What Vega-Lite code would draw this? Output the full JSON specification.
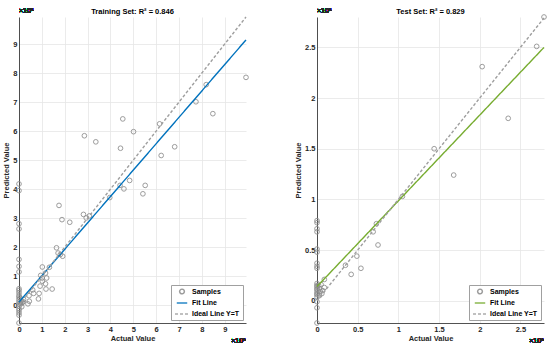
{
  "$schema": "https://vega.github.io/schema/vega-lite/v6.json",
  "padding": {"left": 2, "top": 7, "right": 0, "bottom": 0},
  "background": "white",
  "spacing": 43,
  "datasets": {
    "train": [
      {"series": "Samples", "actual": 9930000, "predicted": 7850000},
      {"series": "Samples", "actual": 8190000, "predicted": 7600000},
      {"series": "Samples", "actual": 7740000, "predicted": 7010000},
      {"series": "Samples", "actual": 8480000, "predicted": 6600000},
      {"series": "Samples", "actual": 4540000, "predicted": 6420000},
      {"series": "Samples", "actual": 6150000, "predicted": 6250000},
      {"series": "Samples", "actual": 2860000, "predicted": 5840000},
      {"series": "Samples", "actual": 5010000, "predicted": 5980000},
      {"series": "Samples", "actual": 3360000, "predicted": 5630000},
      {"series": "Samples", "actual": 4440000, "predicted": 5410000},
      {"series": "Samples", "actual": 6810000, "predicted": 5460000},
      {"series": "Samples", "actual": 6220000, "predicted": 5160000},
      {"series": "Samples", "actual": 4840000, "predicted": 4300000},
      {"series": "Samples", "actual": 5520000, "predicted": 4130000},
      {"series": "Samples", "actual": 4420000, "predicted": 4130000},
      {"series": "Samples", "actual": 4590000, "predicted": 4010000},
      {"series": "Samples", "actual": 5420000, "predicted": 3840000},
      {"series": "Samples", "actual": 3970000, "predicted": 3710000},
      {"series": "Samples", "actual": 0, "predicted": 4180000},
      {"series": "Samples", "actual": 0, "predicted": 3950000},
      {"series": "Samples", "actual": 0, "predicted": 2810000},
      {"series": "Samples", "actual": 0, "predicted": 2630000},
      {"series": "Samples", "actual": 1750000, "predicted": 3440000},
      {"series": "Samples", "actual": 2820000, "predicted": 3130000},
      {"series": "Samples", "actual": 2940000, "predicted": 3010000},
      {"series": "Samples", "actual": 3080000, "predicted": 3080000},
      {"series": "Samples", "actual": 1880000, "predicted": 2950000},
      {"series": "Samples", "actual": 2220000, "predicted": 2860000},
      {"series": "Samples", "actual": 1640000, "predicted": 1980000},
      {"series": "Samples", "actual": 1710000, "predicted": 1800000},
      {"series": "Samples", "actual": 1810000, "predicted": 1750000},
      {"series": "Samples", "actual": 1910000, "predicted": 1690000},
      {"series": "Samples", "actual": 0, "predicted": 1580000},
      {"series": "Samples", "actual": 0, "predicted": 1340000},
      {"series": "Samples", "actual": 0, "predicted": 1150000},
      {"series": "Samples", "actual": 1020000, "predicted": 1320000},
      {"series": "Samples", "actual": 1330000, "predicted": 1310000},
      {"series": "Samples", "actual": 950000, "predicted": 1030000},
      {"series": "Samples", "actual": 1160000, "predicted": 1110000},
      {"series": "Samples", "actual": 1010000, "predicted": 940000},
      {"series": "Samples", "actual": 1210000, "predicted": 940000},
      {"series": "Samples", "actual": 1020000, "predicted": 830000},
      {"series": "Samples", "actual": 920000, "predicted": 660000},
      {"series": "Samples", "actual": 1160000, "predicted": 740000},
      {"series": "Samples", "actual": 1180000, "predicted": 560000},
      {"series": "Samples", "actual": 1450000, "predicted": 560000},
      {"series": "Samples", "actual": 600000, "predicted": 530000},
      {"series": "Samples", "actual": 640000, "predicted": 410000},
      {"series": "Samples", "actual": 880000, "predicted": 410000},
      {"series": "Samples", "actual": 440000, "predicted": 330000},
      {"series": "Samples", "actual": 850000, "predicted": 220000},
      {"series": "Samples", "actual": 450000, "predicted": 140000},
      {"series": "Samples", "actual": 390000, "predicted": 50000},
      {"series": "Samples", "actual": 0, "predicted": 570000},
      {"series": "Samples", "actual": 0, "predicted": 510000},
      {"series": "Samples", "actual": 0, "predicted": 430000},
      {"series": "Samples", "actual": 0, "predicted": 340000},
      {"series": "Samples", "actual": 0, "predicted": 280000},
      {"series": "Samples", "actual": 0, "predicted": 200000},
      {"series": "Samples", "actual": 0, "predicted": 120000},
      {"series": "Samples", "actual": 0, "predicted": 50000},
      {"series": "Samples", "actual": 0, "predicted": -30000},
      {"series": "Samples", "actual": 0, "predicted": -120000},
      {"series": "Samples", "actual": 0, "predicted": -180000},
      {"series": "Samples", "actual": 0, "predicted": -260000},
      {"series": "Samples", "actual": 0, "predicted": -340000},
      {"series": "Samples", "actual": 0, "predicted": -610000},
      {"series": "Samples", "actual": 100000, "predicted": 150000},
      {"series": "Samples", "actual": 150000, "predicted": 100000},
      {"series": "Samples", "actual": 50000, "predicted": 250000},
      {"series": "Samples", "actual": 200000, "predicted": 200000},
      {"series": "Samples", "actual": 80000, "predicted": 50000},
      {"series": "Samples", "actual": 120000, "predicted": -50000},
      {"series": "Samples", "actual": 60000, "predicted": 80000},
      {"series": "Samples", "actual": 180000, "predicted": 120000},
      {"series": "Fit Line", "actual": 0, "predicted": 110000},
      {"series": "Fit Line", "actual": 9930000, "predicted": 9140000},
      {"series": "Ideal Line Y=T", "actual": 0, "predicted": 0},
      {"series": "Ideal Line Y=T", "actual": 9930000, "predicted": 9930000}
    ],
    "test": [
      {"series": "Samples", "actual": 2790000, "predicted": 2800000},
      {"series": "Samples", "actual": 2700000, "predicted": 2510000},
      {"series": "Samples", "actual": 2030000, "predicted": 2310000},
      {"series": "Samples", "actual": 2350000, "predicted": 1800000},
      {"series": "Samples", "actual": 1440000, "predicted": 1500000},
      {"series": "Samples", "actual": 1680000, "predicted": 1240000},
      {"series": "Samples", "actual": 1050000, "predicted": 1030000},
      {"series": "Samples", "actual": 730000, "predicted": 760000},
      {"series": "Samples", "actual": 690000, "predicted": 680000},
      {"series": "Samples", "actual": 750000, "predicted": 550000},
      {"series": "Samples", "actual": 490000, "predicted": 440000},
      {"series": "Samples", "actual": 350000, "predicted": 350000},
      {"series": "Samples", "actual": 540000, "predicted": 320000},
      {"series": "Samples", "actual": 420000, "predicted": 260000},
      {"series": "Samples", "actual": 90000, "predicted": 210000},
      {"series": "Samples", "actual": 90000, "predicted": 130000},
      {"series": "Samples", "actual": 70000, "predicted": 100000},
      {"series": "Samples", "actual": 0, "predicted": 790000},
      {"series": "Samples", "actual": 0, "predicted": 770000},
      {"series": "Samples", "actual": 0, "predicted": 710000},
      {"series": "Samples", "actual": 0, "predicted": 680000},
      {"series": "Samples", "actual": 0, "predicted": 510000},
      {"series": "Samples", "actual": 0, "predicted": 480000},
      {"series": "Samples", "actual": 0, "predicted": 370000},
      {"series": "Samples", "actual": 0, "predicted": 340000},
      {"series": "Samples", "actual": 0, "predicted": 320000},
      {"series": "Samples", "actual": 0, "predicted": 170000},
      {"series": "Samples", "actual": 0, "predicted": 150000},
      {"series": "Samples", "actual": 0, "predicted": 140000},
      {"series": "Samples", "actual": 0, "predicted": 120000},
      {"series": "Samples", "actual": 0, "predicted": 110000},
      {"series": "Samples", "actual": 0, "predicted": 90000},
      {"series": "Samples", "actual": 0, "predicted": 70000},
      {"series": "Samples", "actual": 0, "predicted": 60000},
      {"series": "Samples", "actual": 0, "predicted": 40000},
      {"series": "Samples", "actual": 0, "predicted": -10000},
      {"series": "Samples", "actual": 0, "predicted": -70000},
      {"series": "Samples", "actual": 0, "predicted": -220000},
      {"series": "Samples", "actual": 20000, "predicted": 150000},
      {"series": "Samples", "actual": 30000, "predicted": 120000},
      {"series": "Samples", "actual": 40000, "predicted": 90000},
      {"series": "Samples", "actual": 50000, "predicted": 160000},
      {"series": "Samples", "actual": 60000, "predicted": 70000},
      {"series": "Samples", "actual": 30000, "predicted": 50000},
      {"series": "Fit Line", "actual": 0, "predicted": 140000},
      {"series": "Fit Line", "actual": 2790000, "predicted": 2500000},
      {"series": "Ideal Line Y=T", "actual": 0, "predicted": 0},
      {"series": "Ideal Line Y=T", "actual": 2790000, "predicted": 2790000}
    ]
  },
  "hconcat": [
    {
      "width": 227,
      "height": 306,
      "title": {"text": "Training Set: R² = 0.846"},
      "data": {"name": "train"},
      "layer": [
        {
          "transform": [{"filter": "datum.series === 'Samples'"}],
          "mark": {"type": "point", "filled": false, "strokeWidth": 1, "opacity": 0.85},
          "encoding": {
            "x": {"field": "actual", "type": "quantitative", "title": "Actual Value",
                  "scale": {"domain": [0, 9930000], "nice": false, "zero": false},
                  "axis": {"values": [0,1000000,2000000,3000000,4000000,5000000,6000000,7000000,8000000,9000000], "tickCount": 10, "labelExpr": "format(datum.value/1000000,'~g')", "labelOverlap": false, "labelFlush": false}},
            "y": {"field": "predicted", "type": "quantitative", "title": "Predicted Value",
                  "scale": {"domain": [-610000, 9930000], "nice": false, "zero": false},
                  "axis": {"values": [0,1000000,2000000,3000000,4000000,5000000,6000000,7000000,8000000,9000000], "tickCount": 10, "labelExpr": "format(datum.value/1000000,'~g')", "labelOverlap": false, "labelFlush": false}},
            "color": {"field": "series", "type": "nominal", "legend": {"title": null},
                      "scale": {"domain": ["Samples", "Fit Line", "Ideal Line Y=T"], "range": ["#8c8c8c", "#0072BD", "#9e9e9e"]}},
            "shape": {"field": "series", "type": "nominal", "legend": {"title": null},
                      "scale": {"domain": ["Samples", "Fit Line", "Ideal Line Y=T"], "range": ["circle", "stroke", "stroke"]}},
            "size": {"field": "series", "type": "nominal", "legend": {"title": null},
                     "scale": {"domain": ["Samples", "Fit Line", "Ideal Line Y=T"], "range": [22, 196, 196]}}
          }
        },
        {
          "transform": [{"filter": "datum.series !== 'Samples'"}],
          "mark": {"type": "line", "strokeWidth": 1.4},
          "encoding": {
            "x": {"field": "actual", "type": "quantitative", "axis": {"values": [0,1000000,2000000,3000000,4000000,5000000,6000000,7000000,8000000,9000000], "tickCount": 10, "labelExpr": "format(datum.value/1000000,'~g')", "labelOverlap": false, "labelFlush": false}},
            "y": {"field": "predicted", "type": "quantitative", "axis": {"values": [0,1000000,2000000,3000000,4000000,5000000,6000000,7000000,8000000,9000000], "tickCount": 10, "labelExpr": "format(datum.value/1000000,'~g')", "labelOverlap": false, "labelFlush": false}},
            "color": {"field": "series", "type": "nominal", "legend": {"title": null}},
            "strokeDash": {"field": "series", "type": "nominal", "legend": {"title": null},
                           "scale": {"domain": ["Samples", "Fit Line", "Ideal Line Y=T"], "range": [[1, 0], [1, 0], [3, 2]]}}
          }
        },
        {
          "mark": {"type": "text", "align": "left", "baseline": "alphabetic", "dy": -4, "fontSize": 7, "color": "#262626", "font": "Liberation Sans"},
          "encoding": {"x": {"datum": 0, "type": "quantitative"}, "y": {"datum": 9930000, "type": "quantitative"}, "text": {"value": "×10⁶"}}
        },
        {
          "mark": {"type": "text", "align": "right", "baseline": "alphabetic", "dy": 20, "fontSize": 7, "color": "#262626", "font": "Liberation Sans"},
          "encoding": {"x": {"datum": 9930000, "type": "quantitative"}, "y": {"datum": -610000, "type": "quantitative"}, "text": {"value": "×10⁶"}}
        }
      ]
    },
    {
      "width": 227,
      "height": 306,
      "title": {"text": "Test Set: R² = 0.829"},
      "data": {"name": "test"},
      "layer": [
        {
          "transform": [{"filter": "datum.series === 'Samples'"}],
          "mark": {"type": "point", "filled": false, "strokeWidth": 1, "opacity": 0.85},
          "encoding": {
            "x": {"field": "actual", "type": "quantitative", "title": "Actual Value",
                  "scale": {"domain": [0, 2790000], "nice": false, "zero": false},
                  "axis": {"values": [0,500000,1000000,1500000,2000000,2500000], "tickCount": 6, "labelExpr": "format(datum.value/1000000,'~g')", "labelOverlap": false, "labelFlush": false}},
            "y": {"field": "predicted", "type": "quantitative", "title": "Predicted Value",
                  "scale": {"domain": [-220000, 2800000], "nice": false, "zero": false},
                  "axis": {"values": [0,500000,1000000,1500000,2000000,2500000], "tickCount": 6, "labelExpr": "format(datum.value/1000000,'~g')", "labelOverlap": false, "labelFlush": false}},
            "color": {"field": "series", "type": "nominal", "legend": {"title": null},
                      "scale": {"domain": ["Samples", "Fit Line", "Ideal Line Y=T"], "range": ["#8c8c8c", "#77AC30", "#9e9e9e"]}},
            "shape": {"field": "series", "type": "nominal", "legend": {"title": null},
                      "scale": {"domain": ["Samples", "Fit Line", "Ideal Line Y=T"], "range": ["circle", "stroke", "stroke"]}},
            "size": {"field": "series", "type": "nominal", "legend": {"title": null},
                     "scale": {"domain": ["Samples", "Fit Line", "Ideal Line Y=T"], "range": [22, 196, 196]}}
          }
        },
        {
          "transform": [{"filter": "datum.series !== 'Samples'"}],
          "mark": {"type": "line", "strokeWidth": 1.4},
          "encoding": {
            "x": {"field": "actual", "type": "quantitative"},
            "y": {"field": "predicted", "type": "quantitative"},
            "color": {"field": "series", "type": "nominal", "legend": {"title": null}},
            "strokeDash": {"field": "series", "type": "nominal", "legend": {"title": null},
                           "scale": {"domain": ["Samples", "Fit Line", "Ideal Line Y=T"], "range": [[1, 0], [1, 0], [3, 2]]}}
          }
        },
        {
          "mark": {"type": "text", "align": "left", "baseline": "alphabetic", "dy": -4, "fontSize": 7, "color": "#262626", "font": "Liberation Sans"},
          "encoding": {"x": {"datum": 0, "type": "quantitative"}, "y": {"datum": 2800000, "type": "quantitative"}, "text": {"value": "×10⁶"}}
        },
        {
          "mark": {"type": "text", "align": "right", "baseline": "alphabetic", "dy": 20, "fontSize": 7, "color": "#262626", "font": "Liberation Sans"},
          "encoding": {"x": {"datum": 2790000, "type": "quantitative"}, "y": {"datum": -220000, "type": "quantitative"}, "text": {"value": "×10⁶"}}
        }
      ]
    }
  ],
  "resolve": {"scale": {"x": "independent", "y": "independent", "color": "independent", "shape": "independent", "size": "independent", "strokeDash": "independent"}},
  "config": {
    "view": {"stroke": null},
    "font": "Liberation Sans",
    "title": {"fontSize": 7.5, "fontWeight": "bold", "color": "#000000", "offset": -8, "font": "Liberation Sans"},
    "axis": {
      "labelFont": "Liberation Sans", "labelFontSize": 7.5, "labelFontWeight": "bold", "labelColor": "#262626",
      "titleFont": "Liberation Sans", "titleFontSize": 7.5, "titleFontWeight": "bold", "titleColor": "#262626",
      "domainColor": "#262626", "domainWidth": 0.8, "ticks": false, "labelPadding": 2,
      "gridColor": "#e6e6e6", "gridWidth": 0.8, "labelFlush": false, "labelOverlap": false, "titlePadding": 2
    },
    "legend": {
      "orient": "bottom-right", "offset": 3, "padding": 3, "strokeColor": "#a0a0a0", "fillColor": "white",
      "labelFont": "Liberation Sans", "labelFontSize": 7, "labelFontWeight": "bold", "labelColor": "#000000",
      "rowPadding": 0, "labelOffset": 2, "cornerRadius": 0
    }
  }
}
